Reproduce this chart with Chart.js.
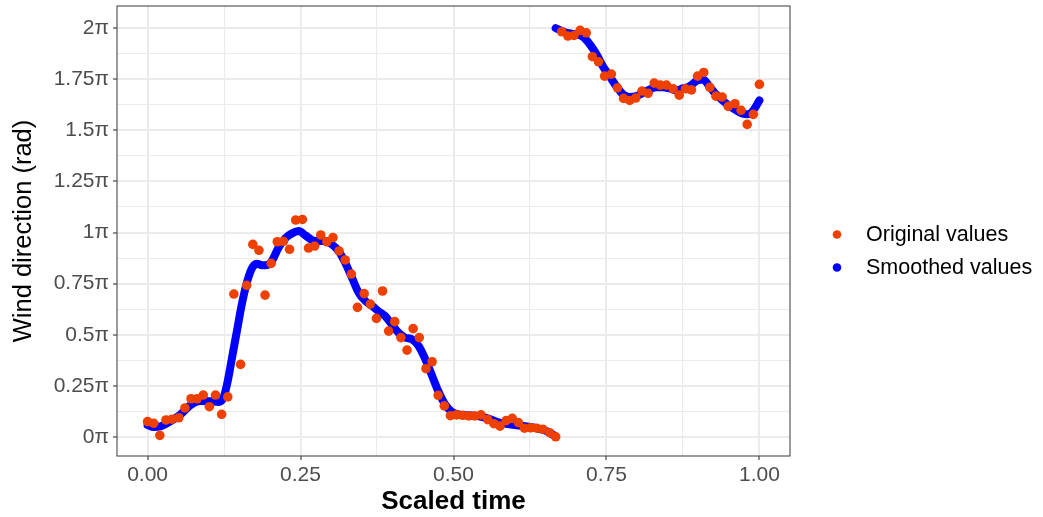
<!DOCTYPE html>
<html><head><meta charset="utf-8">
<script src="https://cdn.jsdelivr.net/npm/chart.js@4.4.1/dist/chart.umd.min.js"></script>
<style>html,body{margin:0;padding:0;background:#fff;}canvas{display:block;}</style>
</head><body>
<canvas id="c" width="1043" height="517"></canvas>
<script>
// Scaled time of the original observations
const timeValues = [
  0.000,0.010,0.020,0.030,0.040,0.051,0.061,0.071,0.081,0.091,
  0.101,0.111,0.121,0.131,0.141,0.152,0.162,0.172,0.182,0.192,
  0.202,0.212,0.222,0.232,0.242,0.253,0.263,0.273,0.283,0.293,
  0.303,0.313,0.323,0.333,0.343,0.354,0.364,0.374,0.384,0.394,
  0.404,0.414,0.424,0.434,0.444,0.455,0.465,0.475,0.485,0.495,
  0.505,0.515,0.525,0.535,0.545,0.556,0.566,0.576,0.586,0.596,
  0.606,0.616,0.626,0.636,0.646,0.657,0.667,0.677,0.687,0.697,
  0.707,0.717,0.727,0.737,0.747,0.758,0.768,0.778,0.788,0.798,
  0.808,0.818,0.828,0.838,0.848,0.859,0.869,0.879,0.889,0.899,
  0.909,0.919,0.929,0.939,0.949,0.960,0.970,0.980,0.990,1.000
];
// Original wind direction values (in units of pi)
const originalValues = [
  0.075,0.067,0.008,0.083,0.087,0.094,0.142,0.187,0.187,0.205,
  0.148,0.205,0.111,0.196,0.699,0.355,0.742,0.942,0.913,0.694,
  0.849,0.955,0.957,0.918,1.061,1.064,0.924,0.934,0.988,0.955,
  0.975,0.910,0.866,0.797,0.634,0.701,0.650,0.580,0.714,0.518,
  0.564,0.486,0.425,0.530,0.486,0.334,0.368,0.204,0.152,0.104,
  0.108,0.106,0.103,0.103,0.108,0.085,0.065,0.053,0.080,0.091,
  0.070,0.043,0.045,0.043,0.038,0.021,0.001,1.982,1.961,1.964,
  1.989,1.977,1.860,1.835,1.765,1.775,1.708,1.656,1.646,1.658,
  1.692,1.681,1.731,1.721,1.721,1.703,1.672,1.703,1.698,1.765,
  1.783,1.710,1.667,1.663,1.617,1.630,1.598,1.529,1.578,1.725
];
// Smoothed curve (null marks the wrap-around break)
const smoothTime = [
  0.000,0.010,0.021,0.038,0.054,0.070,0.086,0.103,0.116,0.124,
  0.131,0.138,0.146,0.154,0.163,0.171,0.179,0.187,0.195,0.203,
  0.214,0.225,0.236,0.247,0.258,0.269,0.279,0.290,0.301,0.312,
  0.323,0.334,0.345,0.356,0.367,0.377,0.388,0.399,0.410,0.421,
  0.432,0.443,0.454,0.464,0.475,0.486,0.497,0.508,0.524,0.540,
  0.557,0.573,0.592,0.614,0.636,0.652,0.666,
  0.6665,
  0.667,0.685,0.701,0.712,0.723,0.734,0.744,0.755,0.766,0.777,
  0.788,0.799,0.810,0.821,0.831,0.842,0.853,0.864,0.875,0.886,
  0.897,0.908,0.918,0.929,0.940,0.951,0.962,0.973,0.981,0.989,1.000
];
const smoothValues = [
  0.059,0.049,0.052,0.078,0.111,0.156,0.176,0.175,0.171,0.192,
  0.274,0.388,0.518,0.649,0.763,0.828,0.847,0.840,0.841,0.861,
  0.926,0.972,0.996,1.007,0.986,0.963,0.958,0.958,0.942,0.910,
  0.852,0.779,0.706,0.665,0.641,0.616,0.592,0.551,0.510,0.486,
  0.478,0.445,0.380,0.307,0.225,0.160,0.124,0.111,0.106,0.103,
  0.090,0.072,0.062,0.054,0.043,0.029,0.005,
  null,
  2.000,1.977,1.969,1.956,1.920,1.871,1.814,1.765,1.716,1.676,
  1.663,1.667,1.684,1.700,1.711,1.711,1.705,1.695,1.705,1.716,
  1.741,1.749,1.716,1.676,1.646,1.619,1.598,1.581,1.578,1.594,1.646
];
const xTickValues = [0, 0.25, 0.5, 0.75, 1];
const xTickLabels = ['0.00', '0.25', '0.50', '0.75', '1.00'];
const xMinorValues = [0.125, 0.375, 0.625, 0.875];
const yTickValues = [0, 0.25, 0.5, 0.75, 1, 1.25, 1.5, 1.75, 2];
const yTickLabels = ['0\u03c0', '0.25\u03c0', '0.5\u03c0', '0.75\u03c0', '1\u03c0', '1.25\u03c0', '1.5\u03c0', '1.75\u03c0', '2\u03c0'];
const yMinorValues = [0.125, 0.375, 0.625, 0.875, 1.125, 1.375, 1.625, 1.875];
const seriesLabels = ['Original values', 'Smoothed values'];
const seriesColors = ['#EE4000', '#0000FF'];

const FONT = "'Liberation Sans', Arial, Helvetica, sans-serif";

function buildTicks(major, minor) {
  return major.concat(minor).sort((a, b) => a - b).map(v => ({ value: v }));
}
function isMajor(list, v) { return list.some(m => Math.abs(m - v) < 1e-9); }

const panelPlugin = {
  id: 'panelBorder',
  afterDatasetsDraw(chart) {
    const { ctx, chartArea: a } = chart;
    ctx.save();
    ctx.strokeStyle = '#4A4A4A';
    ctx.lineWidth = 1.1;
    ctx.strokeRect(a.left, a.top, a.right - a.left, a.bottom - a.top);
    ctx.restore();
  }
};

const legendPlugin = {
  id: 'sideLegend',
  afterDraw(chart) {
    const { ctx, chartArea: a } = chart;
    const mid = (a.top + a.bottom) / 2;
    const rowY = [mid + 3.5, mid + 36.5];
    ctx.save();
    chart.data.datasets.forEach((ds, i) => {
      ctx.beginPath();
      ctx.fillStyle = seriesColors[i];
      ctx.arc(a.right + 47, rowY[i], 4.3, 0, Math.PI * 2);
      ctx.fill();
      ctx.fillStyle = '#000000';
      ctx.font = '21.5px ' + FONT;
      ctx.textBaseline = 'middle';
      ctx.textAlign = 'left';
      ctx.fillText(ds.label, a.right + 76, rowY[i] + 1);
    });
    ctx.restore();
  }
};

new Chart(document.getElementById('c'), {
  type: 'line',
  data: {
    datasets: [
      {
        label: seriesLabels[0],
        data: timeValues.map((t, i) => ({ x: t, y: originalValues[i] })),
        showLine: false,
        pointRadius: 4.8,
        pointHoverRadius: 4.8,
        pointBackgroundColor: seriesColors[0],
        pointBorderWidth: 0,
        borderColor: seriesColors[0],
        backgroundColor: seriesColors[0]
      },
      {
        label: seriesLabels[1],
        data: smoothTime.map((t, i) => ({ x: t, y: smoothValues[i] })),
        showLine: true,
        spanGaps: false,
        borderColor: seriesColors[1],
        backgroundColor: seriesColors[1],
        borderWidth: 8,
        borderCapStyle: 'round',
        borderJoinStyle: 'round',
        cubicInterpolationMode: 'monotone',
        pointRadius: 0,
        pointHoverRadius: 0,
        fill: false
      }
    ]
  },
  options: {
    responsive: false,
    animation: false,
    events: [],
    layout: { padding: { left: 0, right: 253, top: 6, bottom: 0 } },
    plugins: { legend: { display: false }, tooltip: { enabled: false } },
    scales: {
      x: {
        type: 'linear',
        min: -0.05,
        max: 1.05,
        afterBuildTicks: s => { s.ticks = buildTicks(xTickValues, xMinorValues); },
        afterFit: s => { s.height = 61; s.paddingLeft = 0; s.paddingRight = 0; },
        grid: {
          color: c => '#EBEBEB',
          lineWidth: c => isMajor(xTickValues, c.tick.value) ? 2 : 1.1,
          drawTicks: true,
          tickLength: 4,
          tickWidth: 1.1,
          tickColor: c => isMajor(xTickValues, c.tick.value) ? '#333333' : 'rgba(0,0,0,0)'
        },
        border: { display: false },
        ticks: {
          autoSkip: false,
          maxRotation: 0,
          padding: 3,
          color: '#4D4D4D',
          font: { family: FONT, size: 21 },
          callback: v => { const i = xTickValues.findIndex(m => Math.abs(m - v) < 1e-9); return i >= 0 ? xTickLabels[i] : ''; }
        },
        title: {
          display: true,
          text: 'Scaled time',
          color: '#000000',
          font: { family: FONT, size: 26, weight: 'bold' },
          padding: 0
        }
      },
      y: {
        type: 'linear',
        min: -0.093,
        max: 2.108,
        afterBuildTicks: s => { s.ticks = buildTicks(yTickValues, yMinorValues); },
        afterFit: s => { s.width = 117; s.paddingTop = 0; s.paddingBottom = 0; },
        grid: {
          color: c => '#EBEBEB',
          lineWidth: c => isMajor(yTickValues, c.tick.value) ? 2 : 1.1,
          drawTicks: true,
          tickLength: 4,
          tickWidth: 1.1,
          tickColor: c => isMajor(yTickValues, c.tick.value) ? '#333333' : 'rgba(0,0,0,0)'
        },
        border: { display: false },
        ticks: {
          autoSkip: false,
          padding: 4,
          color: '#4D4D4D',
          font: { family: FONT, size: 21 },
          callback: v => { const i = yTickValues.findIndex(m => Math.abs(m - v) < 1e-9); return i >= 0 ? yTickLabels[i] : ''; }
        },
        title: {
          display: true,
          text: 'Wind direction (rad)',
          color: '#000000',
          font: { family: FONT, size: 25.5 },
          padding: { top: 9, bottom: 0 }
        }
      }
    }
  },
  plugins: [panelPlugin, legendPlugin]
});
</script>
</body></html>
